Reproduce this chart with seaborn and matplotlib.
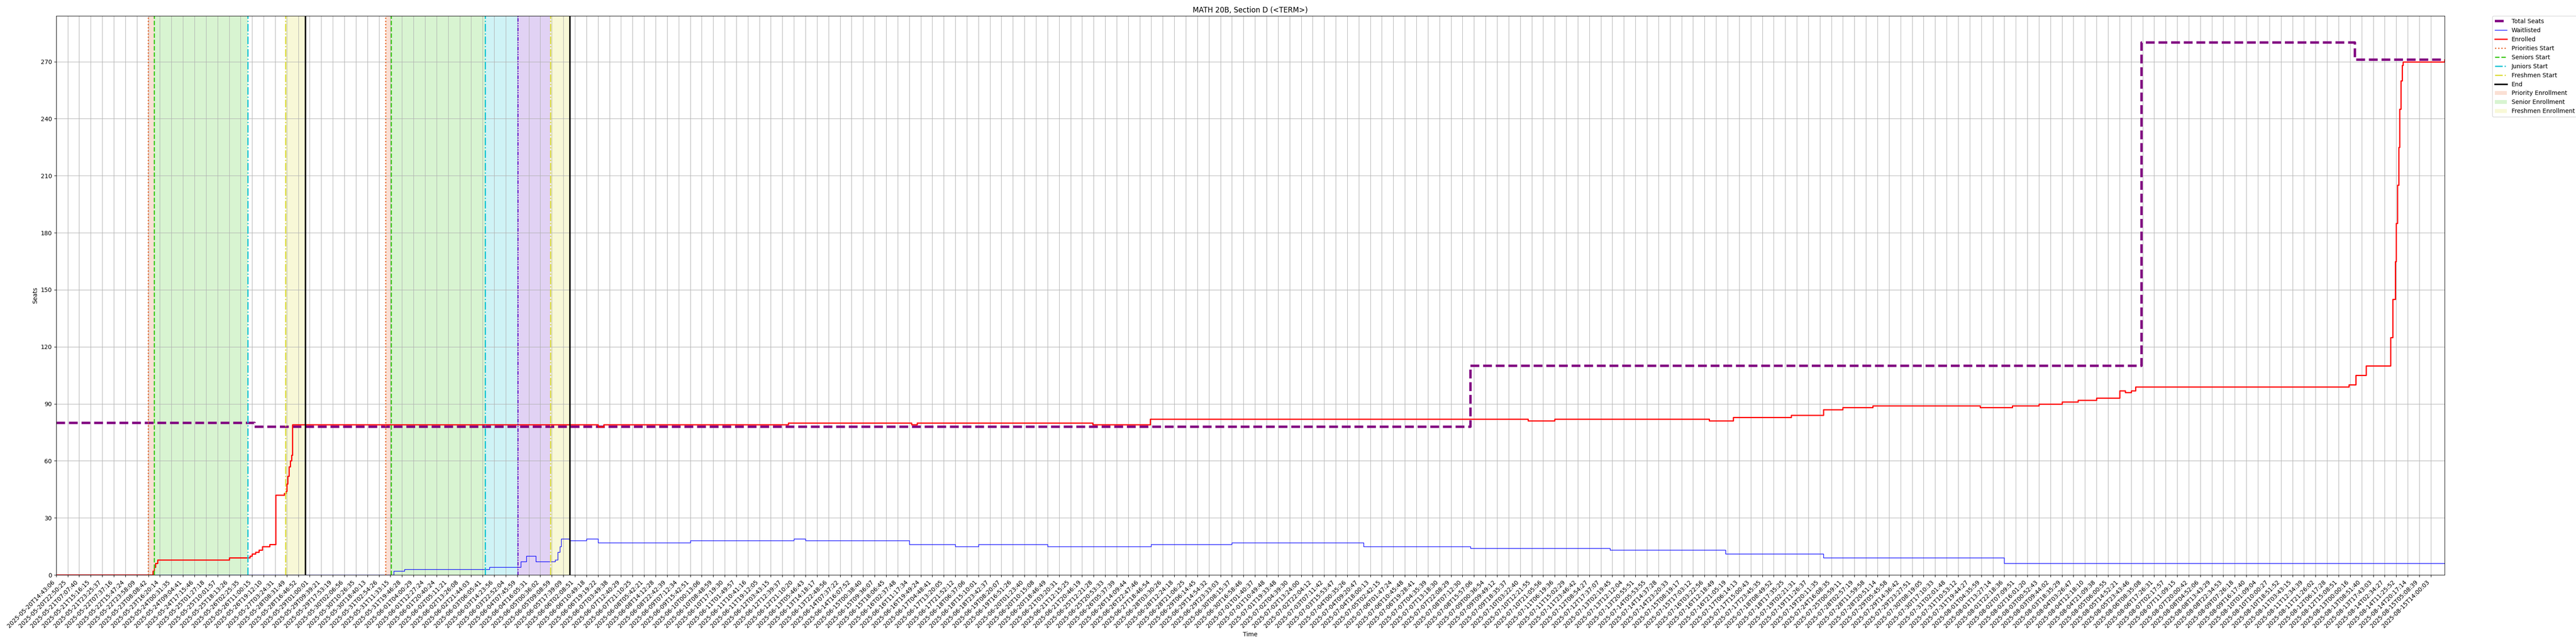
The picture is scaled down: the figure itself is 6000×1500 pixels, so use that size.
import numpy as np
import pandas as pd
import matplotlib
matplotlib.use("Agg")
import matplotlib.pyplot as plt
import seaborn as sns

# x positions are in "tick steps": tick i carries TICK_LABELS[i]
TICK_LABELS = [
    "2025-05-20T14:43:06", "2025-05-20T22:50:25", "2025-05-21T07:07:40", "2025-05-21T15:16:15",
    "2025-05-21T23:25:37", "2025-05-22T07:37:16", "2025-05-22T15:47:24", "2025-05-22T23:58:09",
    "2025-05-23T08:08:42", "2025-05-23T16:20:14", "2025-05-24T00:31:35", "2025-05-24T09:04:41",
    "2025-05-24T17:15:46", "2025-05-25T01:27:18", "2025-05-25T10:01:57", "2025-05-25T18:13:26",
    "2025-05-26T02:25:35", "2025-05-26T11:00:15", "2025-05-26T19:12:10", "2025-05-27T03:24:31",
    "2025-05-28T08:31:49", "2025-05-28T16:46:52", "2025-05-29T01:00:01", "2025-05-29T09:39:21",
    "2025-05-29T17:53:19", "2025-05-30T02:06:56", "2025-05-30T10:26:35", "2025-05-30T18:40:13",
    "2025-05-31T02:54:26", "2025-05-31T11:33:15", "2025-05-31T19:46:28", "2025-06-01T04:00:29",
    "2025-06-01T12:27:24", "2025-06-01T20:40:24", "2025-06-02T05:11:21", "2025-06-02T13:26:08",
    "2025-06-02T21:44:03", "2025-06-03T06:05:41", "2025-06-03T14:23:56", "2025-06-03T22:52:04",
    "2025-06-04T07:45:59", "2025-06-04T16:05:31", "2025-06-05T00:36:02", "2025-06-05T09:08:59",
    "2025-06-05T17:39:09", "2025-06-06T02:08:51", "2025-06-06T10:49:18", "2025-06-06T19:19:22",
    "2025-06-07T03:49:38", "2025-06-07T12:40:29", "2025-06-07T21:10:25", "2025-06-08T05:42:21",
    "2025-06-08T14:12:28", "2025-06-08T22:42:39", "2025-06-09T07:12:34", "2025-06-09T15:42:51",
    "2025-06-10T00:13:06", "2025-06-10T08:48:59", "2025-06-10T17:19:30", "2025-06-11T01:49:57",
    "2025-06-11T10:41:16", "2025-06-11T19:12:05", "2025-06-12T03:43:15", "2025-06-12T12:39:37",
    "2025-06-12T21:10:20", "2025-06-13T05:46:43", "2025-06-13T14:18:17", "2025-06-13T22:48:56",
    "2025-06-14T07:37:22", "2025-06-14T16:07:52", "2025-06-15T00:38:40", "2025-06-15T09:36:07",
    "2025-06-15T18:06:45", "2025-06-16T02:37:48", "2025-06-16T11:17:34", "2025-06-16T19:49:24",
    "2025-06-17T04:48:41", "2025-06-17T13:20:05", "2025-06-17T21:52:12", "2025-06-18T06:37:06",
    "2025-06-18T15:10:01", "2025-06-18T23:42:37", "2025-06-19T08:20:07", "2025-06-19T16:51:26",
    "2025-06-20T01:23:40", "2025-06-20T10:15:08", "2025-06-20T18:46:49", "2025-06-21T03:20:31",
    "2025-06-21T12:15:25", "2025-06-21T20:46:19", "2025-06-25T12:21:28", "2025-06-25T20:53:33",
    "2025-06-26T05:37:39", "2025-06-26T14:09:44", "2025-06-26T22:47:46", "2025-06-27T18:46:54",
    "2025-06-28T03:30:26", "2025-06-28T12:24:18", "2025-06-28T21:06:25", "2025-06-29T06:14:45",
    "2025-06-29T14:54:32", "2025-06-29T23:33:03", "2025-06-30T08:15:37", "2025-06-30T16:58:46",
    "2025-07-01T01:40:37", "2025-07-01T10:49:48", "2025-07-01T19:33:48", "2025-07-02T04:39:30",
    "2025-07-02T13:24:00", "2025-07-02T22:04:12", "2025-07-03T07:11:42", "2025-07-03T15:53:47",
    "2025-07-04T00:35:26", "2025-07-04T09:20:47", "2025-07-04T18:00:13", "2025-07-05T02:42:15",
    "2025-07-06T01:47:24", "2025-07-06T10:45:48", "2025-07-06T19:28:41", "2025-07-07T04:35:39",
    "2025-07-07T13:18:30", "2025-07-07T22:08:29", "2025-07-08T07:12:30", "2025-07-08T15:57:06",
    "2025-07-09T00:36:54", "2025-07-09T09:49:12", "2025-07-09T18:35:37", "2025-07-10T03:22:40",
    "2025-07-10T12:21:55", "2025-07-10T21:05:56", "2025-07-11T06:19:36", "2025-07-11T15:02:29",
    "2025-07-11T23:46:42", "2025-07-12T08:54:27", "2025-07-12T17:37:07", "2025-07-13T02:19:45",
    "2025-07-13T12:12:04", "2025-07-13T20:55:51", "2025-07-14T05:53:55", "2025-07-14T14:37:28",
    "2025-07-14T23:20:33", "2025-07-15T08:19:17", "2025-07-15T17:03:12", "2025-07-16T03:22:56",
    "2025-07-16T12:18:49", "2025-07-16T21:05:19", "2025-07-17T06:14:13", "2025-07-17T15:00:43",
    "2025-07-17T23:45:35", "2025-07-18T08:49:52", "2025-07-18T17:35:25", "2025-07-19T02:21:31",
    "2025-07-19T11:26:37", "2025-07-19T20:11:35", "2025-07-24T16:08:35", "2025-07-25T00:59:11",
    "2025-07-28T02:57:19", "2025-07-28T11:59:58", "2025-07-28T20:51:14", "2025-07-29T05:45:58",
    # the rest could not be read exactly; estimated
    "2025-07-29T14:36:42", "2025-07-29T23:27:51", "2025-07-30T08:19:05", "2025-07-30T17:10:33",
    "2025-07-31T02:01:48", "2025-07-31T10:53:12", "2025-07-31T19:44:27", "2025-08-01T04:35:59",
    "2025-08-01T13:27:14", "2025-08-01T22:18:36", "2025-08-02T07:09:51", "2025-08-02T16:01:20",
    "2025-08-03T00:52:43", "2025-08-03T09:44:02", "2025-08-03T18:35:29", "2025-08-04T03:26:47",
    "2025-08-04T12:18:10", "2025-08-04T21:09:38", "2025-08-05T06:00:55", "2025-08-05T14:52:21",
    "2025-08-05T23:43:46", "2025-08-06T08:35:08", "2025-08-06T17:26:31", "2025-08-07T02:17:57",
    "2025-08-07T11:09:15", "2025-08-07T20:00:42", "2025-08-08T04:52:06", "2025-08-08T13:43:29",
    "2025-08-08T22:34:53", "2025-08-09T07:26:18", "2025-08-09T16:17:40", "2025-08-10T01:09:04",
    "2025-08-10T10:00:27", "2025-08-10T18:51:52", "2025-08-11T03:43:15", "2025-08-11T12:34:39",
    "2025-08-11T21:26:02", "2025-08-12T06:17:28", "2025-08-12T15:08:51", "2025-08-13T00:00:16",
    "2025-08-13T08:51:40", "2025-08-13T17:43:03", "2025-08-14T02:34:27", "2025-08-14T11:25:52",
    "2025-08-14T20:17:14", "2025-08-15T05:08:39", "2025-08-15T14:00:03",
]
LAST_SAMPLE = 207.2

# step series: value holds from x until the next x
TOTAL_X = [0, 17.2, 122.7, 180.9, 199.4, LAST_SAMPLE]
TOTAL_Y = [80, 78, 110, 280, 271, 271]

ENROLLED_X = [0, 8.37, 8.5, 8.6, 8.8, 15.0, 16.8, 17.0, 17.3, 17.6, 17.9, 18.5, 19.05, 19.8,
              19.95, 20.0, 20.1, 20.2, 20.3, 20.4, 20.5, 47.0, 47.5, 63.5, 74.2, 74.7, 89.9,
              94.9, 127.7, 130.0, 143.4, 145.5, 150.5, 153.3, 155.0, 157.6, 166.9, 169.7,
              172.0, 174.0, 175.4, 177.0, 179.0, 179.5, 180.0, 180.4, 198.9, 199.5, 200.4,
              202.5, 202.7, 202.9, 203.0, 203.1, 203.2, 203.3, 203.4, 203.5, 203.6, LAST_SAMPLE]
ENROLLED_Y = [0, 2, 4, 6, 8, 9, 10, 11, 12, 13, 15, 16, 42, 43,
              44, 48, 52, 57, 60, 63, 79, 78, 79, 80, 79, 80, 79,
              82, 81, 82, 81, 83, 84, 87, 88, 89, 88, 89,
              90, 91, 92, 93, 97, 96, 97, 99, 100, 105, 110,
              125, 145, 165, 185, 205, 225, 245, 260, 268, 270, 271]

WAITLIST_X = [0, 29.3, 30.2, 37.6, 40.3, 40.8, 41.6, 43.3, 43.5, 43.7, 43.8, 44.5, 46.0,
              47.0, 55.0, 64.0, 65.0, 74.0, 78.0, 80.0, 86.0, 95.0, 102.0, 113.4,
              122.7, 134.8, 144.8, 153.3, 169.0, LAST_SAMPLE]
WAITLIST_Y = [0, 2, 3, 4, 7, 10, 7, 8, 12, 15, 19, 18, 19,
              17, 18, 19, 18, 16, 15, 16, 15, 16, 17, 15,
              14, 13, 11, 9, 6, 6]

# enrollment windows, one entry per pass (None = no such phase)
PRIORITY_START = [7.96, 28.59]
SENIORS_START = [8.50, 29.04]
JUNIORS_START = [16.61, 37.22]
SOPHOMORES_START = [None, 40.06]
FRESHMEN_START = [19.90, 42.87]
END_TIME = [21.61, 44.54]

C_PRIORITY = "#e8662a"
C_SENIOR = "#3cc81a"
C_JUNIOR = "#12c3d3"
C_SOPHOMORE = "#6a22cc"
C_FRESHMEN = "#dcdc3a"

fig, ax = plt.subplots(figsize=(60, 15), dpi=100)
fig.subplots_adjust(left=0.0218, right=0.949, bottom=0.1073, top=0.9751)

total = pd.DataFrame({"x": TOTAL_X, "y": TOTAL_Y})
wait = pd.DataFrame({"x": WAITLIST_X, "y": WAITLIST_Y})
enr = pd.DataFrame({"x": ENROLLED_X, "y": ENROLLED_Y})

sns.lineplot(data=total, x="x", y="y", ax=ax, color="purple", lw=4, linestyle="--",
             drawstyle="steps-post", label="Total Seats")
sns.lineplot(data=wait, x="x", y="y", ax=ax, color="blue", lw=1,
             drawstyle="steps-post", label="Waitlisted")
sns.lineplot(data=enr, x="x", y="y", ax=ax, color="red", lw=2,
             drawstyle="steps-post", label="Enrolled")

for i in range(len(PRIORITY_START)):
    first = i == 0
    ax.axvline(PRIORITY_START[i], color=C_PRIORITY, ls=":", lw=2,
               label="Priorities Start" if first else None)
    ax.axvline(SENIORS_START[i], color=C_SENIOR, ls="--", lw=2,
               label="Seniors Start" if first else None)
    ax.axvline(JUNIORS_START[i], color=C_JUNIOR, ls="-.", lw=2,
               label="Juniors Start" if first else None)
    if SOPHOMORES_START[i] is not None:
        ax.axvline(SOPHOMORES_START[i], color=C_SOPHOMORE, ls=(0, (3, 1, 1, 1, 1, 1)), lw=2)
    ax.axvline(FRESHMEN_START[i], color=C_FRESHMEN, ls="-.", lw=2,
               label="Freshmen Start" if first else None)
    ax.axvline(END_TIME[i], color="black", ls="-", lw=2.5,
               label="End" if first else None)

for i in range(len(PRIORITY_START)):
    first = i == 0
    ax.axvspan(PRIORITY_START[i], SENIORS_START[i], color=C_PRIORITY, alpha=0.2, lw=0,
               label="Priority Enrollment" if first else None)
    ax.axvspan(SENIORS_START[i], JUNIORS_START[i], color=C_SENIOR, alpha=0.2, lw=0,
               label="Senior Enrollment" if first else None)
    if SOPHOMORES_START[i] is not None:
        ax.axvspan(JUNIORS_START[i], SOPHOMORES_START[i], color=C_JUNIOR, alpha=0.2, lw=0)
        ax.axvspan(SOPHOMORES_START[i], FRESHMEN_START[i], color=C_SOPHOMORE, alpha=0.2, lw=0)
    ax.axvspan(FRESHMEN_START[i], END_TIME[i], color=C_FRESHMEN, alpha=0.2, lw=0,
               label="Freshmen Enrollment" if first else None)

ax.set_xlim(0, LAST_SAMPLE)
ax.set_ylim(0, max(TOTAL_Y) * 1.05)
ax.yaxis.set_major_locator(matplotlib.ticker.MultipleLocator(30))
ax.set_xticks(np.arange(len(TICK_LABELS)))
ax.set_xticklabels(TICK_LABELS, rotation=45, ha="right")
ax.set_xlabel("Time")
ax.set_ylabel("Seats")
ax.set_title("MATH 20B, Section D (<TERM>)")
ax.grid(True)
ax.legend(loc="upper left", bbox_to_anchor=(1.02, 1), borderaxespad=0)

plt.savefig("out.png", dpi=100)
plt.close()
